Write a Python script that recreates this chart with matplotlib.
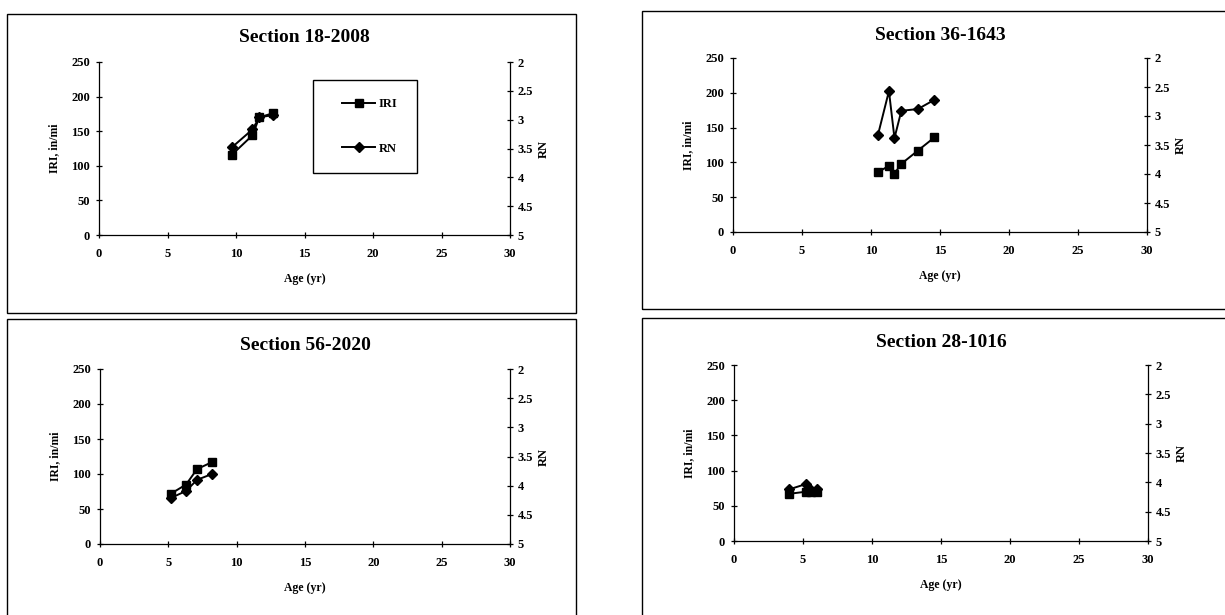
import matplotlib
matplotlib.use("Agg")
import matplotlib.pyplot as plt
from matplotlib.lines import Line2D
from matplotlib.patches import Rectangle

# data (age in years, IRI in in/mi, RN on its own scale)
titles = ["Section 18-2008", "Section 36-1643", "Section 56-2020", "Section 28-1016"]

age_18_2008 = [9.7, 11.2, 11.7, 12.7]
iri_18_2008 = [116, 144, 170, 176]
rn_18_2008 = [3.48, 3.17, 2.96, 2.92]

age_36_1643 = [10.5, 11.3, 11.7, 12.2, 13.4, 14.6]
iri_36_1643 = [86, 95, 84, 98, 117, 136]
rn_36_1643 = [3.33, 2.57, 3.38, 2.91, 2.88, 2.72]

age_56_2020 = [5.2, 6.3, 7.1, 8.2]
iri_56_2020 = [72, 85, 107, 117]
rn_56_2020 = [4.21, 4.09, 3.90, 3.80]

age_28_1016 = [4.0, 5.2, 5.6, 6.0]
iri_28_1016 = [67, 70, 69, 70]
rn_28_1016 = [4.12, 4.03, 4.13, 4.12]

x_ticks = [0, 5, 10, 15, 20, 25, 30]
iri_ticks = [0, 50, 100, 150, 200, 250]
rn_ticks = [2, 2.5, 3, 3.5, 4, 4.5, 5]
rn_tick_labels = ["2", "2.5", "3", "3.5", "4", "4.5", "5"]

W, H = 1225, 615
plt.rcParams['font.family'] = ['Liberation Serif', 'DejaVu Serif']
plt.rcParams['font.weight'] = 'bold'

fig = plt.figure(figsize=(W / 100, H / 100), dpi=100)


def px_rect(x0, y0, x1, y1):
    return [x0 / W, 1 - y1 / H, (x1 - x0) / W, (y1 - y0) / H]


def panel(axes_px, box_px, title_y, title, ages, iri, rn):
    bx0, by0, bx1, by1 = box_px
    fig.patches.append(Rectangle((bx0 / W, 1 - by1 / H), (bx1 - bx0) / W, (by1 - by0) / H,
                                 transform=fig.transFigure, fill=False,
                                 edgecolor='black', linewidth=1.0))
    ax = fig.add_axes(px_rect(*axes_px))
    ax2 = ax.twinx()

    ax.plot(ages, iri, color='black', marker='s', markersize=5.5, linewidth=1.4, label='IRI')
    ax2.plot(ages, rn, color='black', marker='D', markersize=5, linewidth=1.4, label='RN')

    ax.set_xlim(0, 30)
    ax.set_ylim(0, 250)
    ax2.set_ylim(5, 2)
    ax.set_xticks(x_ticks)
    ax.set_yticks(iri_ticks)
    ax2.set_yticks(rn_ticks)
    ax2.set_yticklabels(rn_tick_labels)

    for sp in ['top', 'right']:
        ax.spines[sp].set_visible(False)
    for sp in ['top', 'left', 'bottom']:
        ax2.spines[sp].set_visible(False)
    for sp in ['left', 'bottom']:
        ax.spines[sp].set_linewidth(0.9)
    ax2.spines['right'].set_linewidth(0.9)

    ax.tick_params(axis='both', direction='inout', length=5, width=0.9, labelsize=9)
    ax.tick_params(axis='x', pad=7)
    ax.tick_params(axis='y', pad=4)
    ax2.tick_params(axis='y', direction='inout', length=5, width=0.9, labelsize=9, pad=3)

    ax.set_xlabel('Age (yr)', fontsize=8.5, fontweight='bold', labelpad=9)
    ax.set_ylabel('IRI, in/mi', fontsize=8.5, fontweight='bold', labelpad=8)
    ax2.set_ylabel('RN', fontsize=9, fontweight='bold', labelpad=3)

    cx = (axes_px[0] + axes_px[2]) / 2
    fig.text(cx / W, 1 - title_y / H, title, ha='center', va='center',
             fontsize=14, fontweight='bold')
    return ax, ax2


panel((99, 62, 510, 235), (7, 14, 576, 313), 38, titles[0],
      age_18_2008, iri_18_2008, rn_18_2008)
panel((733, 58, 1147, 232), (642, 11, 1240, 309), 35, titles[1],
      age_36_1643, iri_36_1643, rn_36_1643)
panel((100, 369, 510, 544), (7, 319, 576, 630), 345, titles[2],
      age_56_2020, iri_56_2020, rn_56_2020)
panel((734, 365, 1148, 541), (642, 318, 1240, 630), 342, titles[3],
      age_28_1016, iri_28_1016, rn_28_1016)

# legend box of the first panel
lx0, ly0, lx1, ly1 = 313, 80, 417, 173
fig.patches.append(Rectangle((lx0 / W, 1 - ly1 / H), (lx1 - lx0) / W, (ly1 - ly0) / H,
                             transform=fig.transFigure, fill=False,
                             edgecolor='black', linewidth=1.0))
handles = [Line2D([], [], color='black', marker='s', markersize=5.5, linewidth=1.4),
           Line2D([], [], color='black', marker='D', markersize=5, linewidth=1.4)]
fig.legend(handles, ['IRI', 'RN'], loc='center',
           bbox_to_anchor=(lx0 / W + 0.004, 1 - ly1 / H, (lx1 - lx0) / W, (ly1 - ly0) / H),
           frameon=False, fontsize=9, labelspacing=2.6, handlelength=2.6,
           handletextpad=0.3, borderaxespad=0)

fig.savefig('out.png', dpi=100)
